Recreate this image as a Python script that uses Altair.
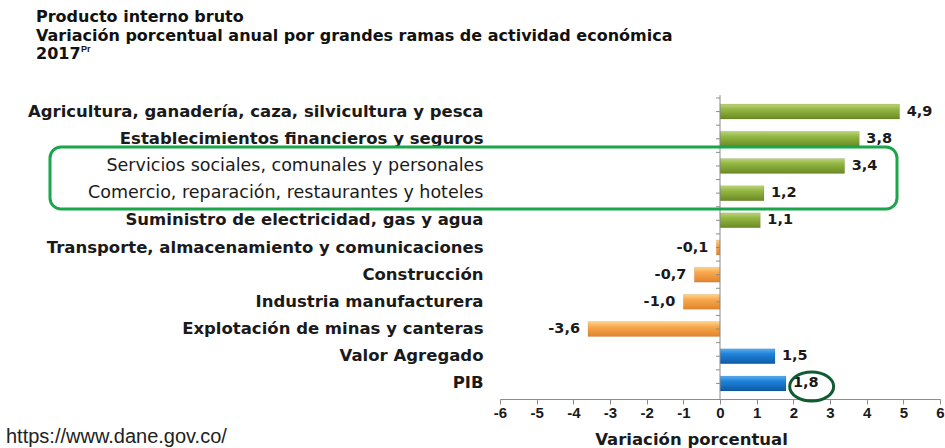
import altair as alt
import pandas as pd

# ---------------- data ----------------
categories = [
    "Agricultura, ganadería, caza, silvicultura y pesca",
    "Establecimientos financieros y seguros",
    "Servicios sociales, comunales y personales",
    "Comercio, reparación, restaurantes y hoteles",
    "Suministro de electricidad, gas y agua",
    "Transporte, almacenamiento y comunicaciones",
    "Construcción",
    "Industria manufacturera",
    "Explotación de minas y canteras",
    "Valor Agregado",
    "PIB",
]
values = [4.9, 3.8, 3.4, 1.2, 1.1, -0.1, -0.7, -1.0, -3.6, 1.5, 1.8]
groups = ["rama"] * 9 + ["total"] * 2
x_ticks = [-6, -5, -4, -3, -2, -1, 0, 1, 2, 3, 4, 5, 6]
title_lines = [
    "Producto interno bruto",
    "Variación porcentual anual por grandes ramas de actividad económica",
    "2017",
]
title_sup = "Pr"
source_text = "https://www.dane.gov.co/"
x_title = "Variación porcentual"
highlight_value = 1.8

clase = []
for g, v in zip(groups, values):
    if g == "total":
        clase.append("total")
    elif v >= 0:
        clase.append("pos")
    else:
        clase.append("neg")

df = pd.DataFrame({
    "rama": categories,
    "valor": values,
    "clase": clase,
    "etiqueta": [f"{v:.1f}".replace(".", ",") for v in values],
})

# ---------------- layout ----------------
W, H = 440, 299
PAD_L, PAD_T = 500, 98
PAD_R, PAD_B = 945 - PAD_L - W, 448 - PAD_T - H


def grad(top, mid, bot):
    return alt.LinearGradient(
        gradient="linear", x1=0, y1=0, x2=0, y2=1,
        stops=[
            alt.GradientStop(color=top, offset=0),
            alt.GradientStop(color=mid, offset=0.35),
            alt.GradientStop(color=bot, offset=1),
        ],
    )


boxed_test = "indexof(datum.label, 'Servicios') == 0 || indexof(datum.label, 'Comercio') == 0"
label_weight = {"condition": {"test": boxed_test, "value": "normal"}, "value": "bold"}
label_size = {"condition": {"test": boxed_test, "value": 17.5}, "value": 16.5}

y_axis = alt.Axis(
    title=None, domain=False, ticks=False, labelPadding=17,
    labelFont="DejaVu Sans", labelFontSize=label_size,
    labelFontWeight=label_weight, labelColor="#1a1a1a", labelLimit=0,
)
y_scale = alt.Scale(domain=categories, paddingInner=0, paddingOuter=0)
y_enc = alt.Y("rama:N", sort=categories, scale=y_scale, axis=y_axis)

x_axis = alt.Axis(
    values=x_ticks, labelExpr="'' + datum.value", grid=False, offset=2,
    labelOverlap=False, labelFlush=False, labelSeparation=0,
    domainColor="#8c8c8c", tickColor="#8c8c8c", tickSize=5,
    labelFont="Liberation Sans", labelFontWeight="bold", labelFontSize=15,
    labelColor="#1a1a1a", labelPadding=1,
    title=x_title, titleFont="DejaVu Sans", titleFontSize=16.5,
    titleFontWeight="bold", titleColor="#1a1a1a",
    titleX=191, titleY=45, titleBaseline="alphabetic", titleAlign="center",
)
x_scale = alt.Scale(domain=[-6, 6], nice=False, zero=True)
x_enc = alt.X("valor:Q", scale=x_scale, axis=x_axis)
x_zero = alt.XDatum(0, scale=x_scale, axis=x_axis)

base = alt.Chart(df)

bar_styles = {
    "pos": grad("#bcd47a", "#93b743", "#6a8a24"),
    "neg": grad("#ffd48c", "#f8a84e", "#e0842c"),
    "total": grad("#5aaef2", "#1f82da", "#0e5aa6"),
}
bar_layers = []
for key, g in bar_styles.items():
    bar_layers.append(
        base.transform_filter(f"datum.clase == '{key}'")
        .mark_bar(size=15, color=g, stroke="#00000022", strokeWidth=0.6)
        .encode(x=x_enc, y=y_enc)
    )

zero_df = pd.DataFrame({"valor": [0]})
zero_line = alt.Chart(zero_df).mark_rule(
    color="#8c8c8c", strokeWidth=1
).encode(x=x_enc, y=alt.value(-3), y2=alt.value(H + 2))

ticks_center = base.mark_rule(color="#8c8c8c").encode(
    y=y_enc, x=x_zero, x2=alt.datum(-0.11)
)
ticks_edge = base.mark_rule(color="#8c8c8c", yOffset=-H / len(categories) / 2).encode(
    y=y_enc, x=x_zero, x2=alt.datum(-0.11)
)

txt_pos = base.transform_filter("datum.valor >= 0").mark_text(
    align="left", baseline="middle", dx=7, font="DejaVu Sans",
    fontWeight="bold", fontSize=14.5, color="#1a1a1a",
).encode(x=x_enc, y=y_enc, text="etiqueta:N")

txt_neg = base.transform_filter("datum.valor < 0").mark_text(
    align="right", baseline="middle", dx=-8, font="DejaVu Sans",
    fontWeight="bold", fontSize=14.5, color="#1a1a1a",
).encode(x=x_enc, y=y_enc, text="etiqueta:N")

one = pd.DataFrame({"a": [0]})

box = alt.Chart(one).mark_rect(
    fillOpacity=0, stroke="#1ba64b", strokeWidth=3, cornerRadius=11
).encode(
    x=alt.value(50 - PAD_L), x2=alt.value(897 - PAD_L),
    y=alt.value(147 - PAD_T), y2=alt.value(209 - PAD_T),
)

ellipse = alt.Chart(one).mark_point(
    shape="M -1 0 A 1 0.66 0 1 1 1 0 A 1 0.66 0 1 1 -1 0 Z",
    size=44 * 44, filled=False, stroke="#0f5c32", strokeWidth=3,
    opacity=1, yOffset=3,
).encode(
    x=alt.XDatum(highlight_value + 0.7, scale=x_scale, axis=x_axis),
    y=alt.YDatum("PIB", scale=y_scale, axis=y_axis),
)

title_marks = []
title_y = [22, 41, 59]
for line, ty in zip(title_lines, title_y):
    title_marks.append(
        alt.Chart(one).mark_text(
            text=line, align="left", baseline="alphabetic", font="DejaVu Sans",
            fontWeight="bold", fontSize=16, color="#111111",
        ).encode(x=alt.value(36 - PAD_L), y=alt.value(ty - PAD_T))
    )
sup = alt.Chart(one).mark_text(
    text=title_sup, align="left", baseline="alphabetic", font="Liberation Sans",
    fontWeight="bold", fontSize=9, color="#111111",
).encode(x=alt.value(36 + 45 - PAD_L), y=alt.value(52 - PAD_T))

source = alt.Chart(one).mark_text(
    text=source_text, align="left", baseline="alphabetic",
    font="Liberation Sans", fontSize=20, color="#222222",
).encode(x=alt.value(6 - PAD_L), y=alt.value(443 - PAD_T))

chart = alt.layer(
    *bar_layers, zero_line, ticks_center, ticks_edge, txt_pos, txt_neg,
    box, ellipse, *title_marks, sup, source,
).properties(
    width=W, height=H,
    autosize=alt.AutoSizeParams(type="none"),
    padding={"left": PAD_L, "top": PAD_T, "right": PAD_R, "bottom": PAD_B},
).configure(
    background="white", view=alt.ViewConfig(stroke=None)
)

chart.save("out.html", embed_options={"renderer": "svg", "actions": False})
